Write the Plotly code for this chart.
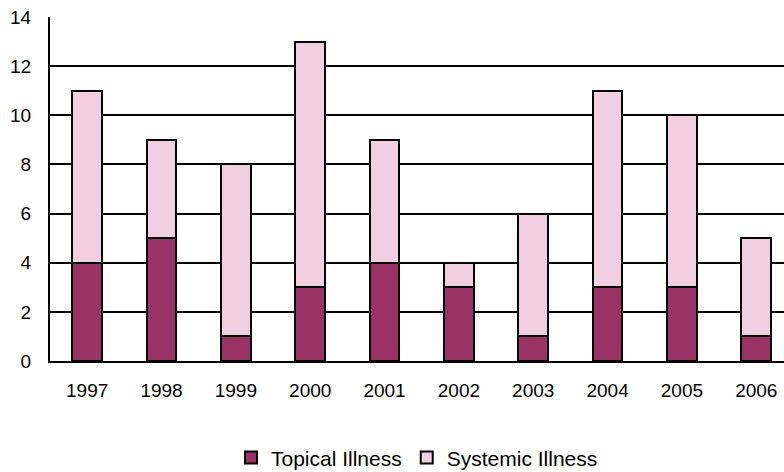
import plotly.graph_objects as go

years = ["1997", "1998", "1999", "2000", "2001", "2002", "2003", "2004", "2005", "2006"]
topical = [4, 5, 1, 3, 4, 3, 1, 3, 3, 1]
systemic = [7, 4, 7, 10, 5, 1, 5, 8, 7, 4]

font = dict(family="Liberation Sans, Arial, sans-serif", size=19, color="black")
legend_font = dict(family="Liberation Sans, Arial, sans-serif", size=21, color="black")

fig = go.Figure()
fig.add_trace(go.Bar(
    x=years, y=topical, name="Topical Illness",
    marker=dict(color="#993366", line=dict(color="black", width=2)),
))
fig.add_trace(go.Bar(
    x=years, y=systemic, name="Systemic Illness",
    marker=dict(color="#F2CFE0", line=dict(color="black", width=2)),
))

fig.update_layout(
    width=784, height=472,
    barmode="stack", bargap=0.6,
    plot_bgcolor="white", paper_bgcolor="white",
    font=font,
    margin=dict(l=50, r=0, t=17, b=111),
    showlegend=True,
    legend=dict(
        orientation="h", x=0.5, xanchor="center",
        yref="container", y=0.03, yanchor="middle",
        traceorder="normal", font=legend_font, itemwidth=30, tracegroupgap=0,
    ),
    xaxis=dict(
        type="category", range=[-0.5, 9.373],
        showline=True, linecolor="black", linewidth=2,
        ticks="", tickfont=font, ticklabelstandoff=11,
    ),
    yaxis=dict(
        range=[0, 14], dtick=2, showgrid=True, gridcolor="black", gridwidth=1.5,
        showline=True, linecolor="black", linewidth=2,
        ticks="", tickfont=font, zeroline=False, ticklabelstandoff=13,
    ),
)

fig.write_html("out.html")
